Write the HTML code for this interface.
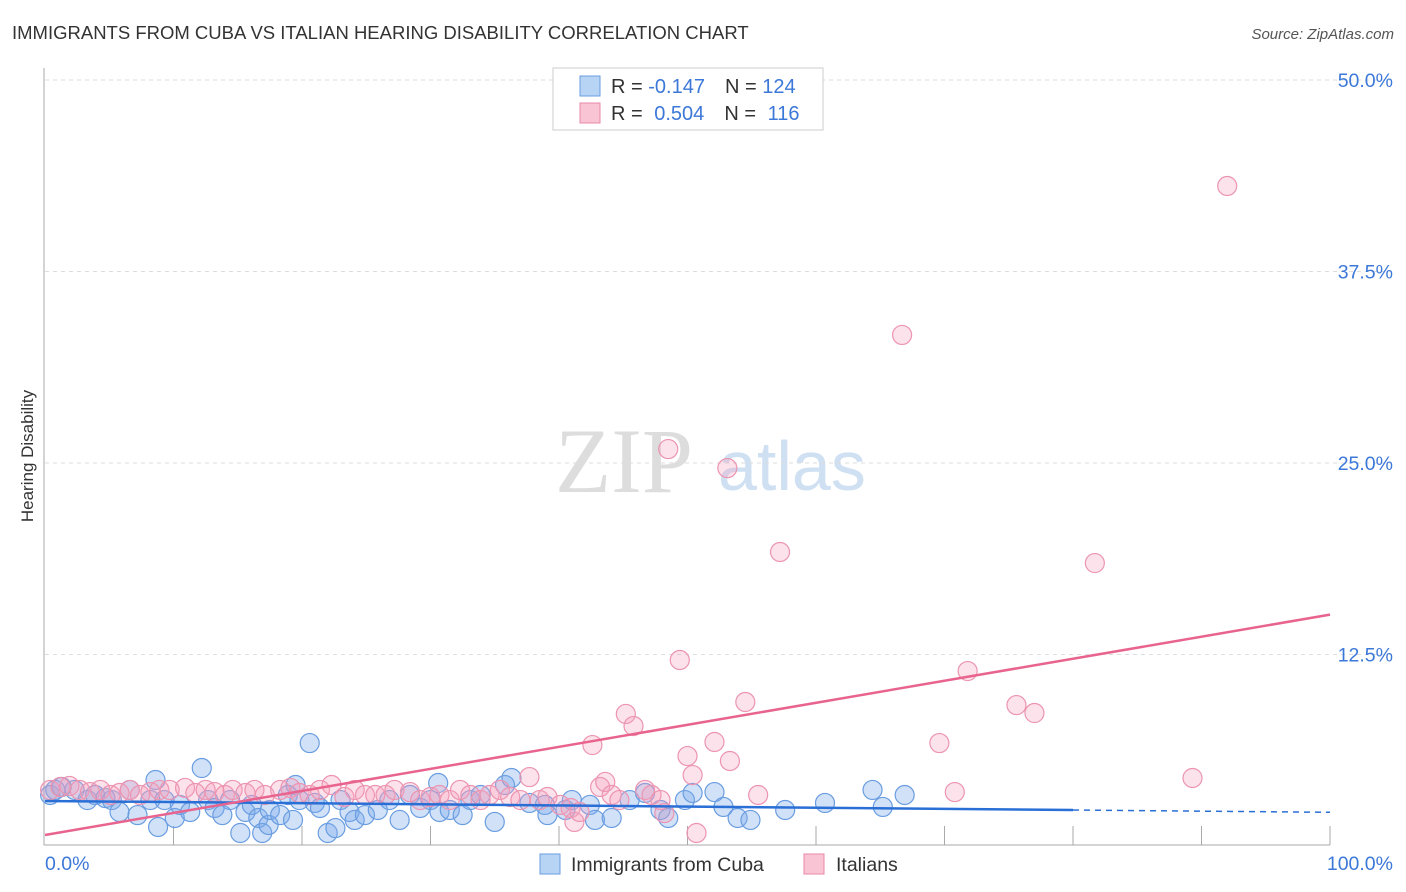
<!DOCTYPE html>
<html><head><meta charset="utf-8"><style>
body{margin:0;background:#fff;font-family:"Liberation Sans",sans-serif;}
svg{display:block}
</style></head><body>
<svg id="chart" width="1406" height="892">
<text x="12" y="39" font-size="18.5" fill="#333">IMMIGRANTS FROM CUBA VS ITALIAN HEARING DISABILITY CORRELATION CHART</text>
<text x="1394" y="39" font-size="15" fill="#555" font-style="italic" text-anchor="end">Source: ZipAtlas.com</text>
<text transform="translate(33,456) rotate(-90)" font-size="17" fill="#333" text-anchor="middle">Hearing Disability</text>
<g>
<text x="555" y="492" font-size="92" fill="#ddd" font-family="Liberation Serif,serif">ZIP</text>
<text x="718" y="490" font-size="70" fill="#cfe0f3">atlas</text>
</g>
<g id="grid"></g><g id="axes"></g><g id="pts"></g><g id="lines"></g>
<g>
<rect x="553" y="68" width="270" height="62" fill="#fff" stroke="#ccc"/>
<rect x="580" y="76" width="20" height="20" fill="#b8d4f5" stroke="#6a9de0"/>
<rect x="580" y="103" width="20" height="20" fill="#f9c4d4" stroke="#e88aa8"/>
<text x="611" y="93" font-size="20" fill="#333">R = <tspan fill="#3c78d8">-0.147</tspan><tspan dx="20">N = </tspan><tspan fill="#3c78d8">124</tspan></text>
<text x="611" y="120" font-size="20" fill="#333">R = <tspan fill="#3c78d8" dx="6">0.504</tspan><tspan dx="20">N = </tspan><tspan fill="#3c78d8" dx="6">116</tspan></text>
</g>
<g>
<rect x="540" y="854" width="20" height="20" fill="#b8d4f5" stroke="#6a9de0"/>
<text x="571" y="871" font-size="19.5" fill="#333">Immigrants from Cuba</text>
<rect x="804" y="854" width="20" height="20" fill="#f9c4d4" stroke="#e88aa8"/>
<text x="836" y="871" font-size="19.5" fill="#333">Italians</text>
</g>
</svg>
<script>
const yTicks=[12.5,25,37.5,50];
const yTickLabels=["12.5%","25.0%","37.5%","50.0%"];
const xTickLabels=["0.0%","100.0%"];
const blueX=[0.4,0.8,1.3,2.3,3.3,3.9,4.7,5.2,5.8,6.6,7.2,8.2,8.6,8.8,9.3,10.1,10.5,11.3,12.2,12.7,13.2,13.8,14.4,15.2,15.6,16.1,16.6,16.9,17.4,17.5,18.3,18.9,19.3,19.5,19.8,20.6,21.0,21.4,22.0,22.6,23.0,23.7,24.1,24.9,25.9,26.8,27.6,28.4,29.2,30.0,30.6,30.7,31.5,32.5,33.1,33.9,35.0,35.8,36.3,37.7,38.9,39.1,40.5,41.0,42.4,42.8,44.1,45.5,46.7,47.9,48.5,49.8,50.4,52.1,52.8,53.9,54.9,57.6,60.7,64.4,65.2,66.9];
const blueY=[3.33,3.66,3.85,3.66,3.0,3.33,3.13,3.0,2.22,3.66,2.02,3.0,4.31,1.24,3.0,1.83,2.68,2.22,5.09,3.0,2.48,2.02,3.0,0.85,2.22,2.68,1.83,0.85,1.37,2.35,2.02,3.33,1.70,3.98,3.0,6.72,2.81,2.48,0.85,1.17,3.0,2.22,1.70,2.02,2.35,3.0,1.70,3.33,2.48,3.0,4.11,2.22,2.35,2.02,3.0,3.33,1.57,3.98,4.44,2.81,2.68,2.02,2.35,3.0,2.68,1.70,1.83,3.0,3.46,2.35,1.83,3.0,3.46,3.52,2.55,1.83,1.70,2.35,2.81,3.66,2.55,3.33];
const pinkX=[0.4,1.2,1.9,2.7,3.5,4.3,5.1,5.8,6.6,7.4,8.2,8.9,9.7,10.9,11.7,12.5,13.2,14.0,14.6,15.6,16.3,17.1,18.3,19.1,19.8,20.6,21.4,22.3,23.3,24.1,24.9,25.7,26.5,27.2,28.4,29.2,30.0,30.7,31.5,32.3,33.1,33.9,34.6,35.4,36.2,37.0,37.7,38.5,39.1,40.1,40.9,41.2,41.6,42.6,43.2,43.6,44.1,44.7,45.2,45.8,46.7,47.2,47.9,48.2,49.4,50.0,50.4,50.7,52.1,53.3,54.5,55.5,57.2,48.5,53.1,66.7,92.0,81.7,71.8,75.6,77.0,69.6,70.8,89.3];
const pinkY=[3.66,3.85,3.92,3.66,3.52,3.66,3.33,3.46,3.66,3.33,3.52,3.66,3.66,3.79,3.46,3.66,3.52,3.33,3.66,3.46,3.66,3.33,3.66,3.79,3.46,3.33,3.66,3.98,3.20,3.66,3.33,3.33,3.33,3.66,3.52,3.0,3.20,3.33,3.0,3.66,3.33,3.0,3.33,3.66,3.20,3.0,4.5,3.0,3.20,2.68,2.48,1.57,2.22,6.59,3.85,4.18,3.33,3.0,8.62,7.83,3.66,3.33,3.0,2.15,12.14,5.87,4.63,0.85,6.79,5.55,9.4,3.33,19.19,25.91,24.67,33.36,43.08,18.47,11.42,9.2,8.68,6.72,3.52,4.44];
const blueTrend=[2.94,2.2];
const pinkTrend=[0.72,15.1];
const X0=45,X1=1330,Y0=846,PX=15.32;
const sx=v=>X0+(X1-X0)*v/100, sy=v=>Y0-v*PX;
const NS="http://www.w3.org/2000/svg";
function mk(t,a,p){const e=document.createElementNS(NS,t);for(const k in a)e.setAttribute(k,a[k]);p.appendChild(e);return e;}
const grid=document.getElementById('grid'),axes=document.getElementById('axes'),pts=document.getElementById('pts'),lines=document.getElementById('lines');
yTicks.forEach((v,i)=>{
 const g=mk('line',{x1:45,x2:1392,y1:sy(v),y2:sy(v),stroke:'#ddd','stroke-dasharray':'4,4'},grid);
 
 
 const t=mk('text',{x:1393,y:sy(v)+7,'font-size':19.5,fill:'#3c78d8','text-anchor':'end'},axes);
 t.textContent=yTickLabels[i];
 
 
});
const ax=mk('line',{x1:44,x2:44,y1:68,y2:845,stroke:'#aaa'},axes);


const bx=mk('line',{x1:44,x2:1330,y1:845,y2:845,stroke:'#aaa'},axes);


for(let i=1;i<=10;i++){const tk=mk('line',{x1:sx(i*10),x2:sx(i*10),y1:826,y2:845,stroke:'#aaa'},axes);
 
 }
[[0,'start',45],[100,'end',1393]].forEach((d,i)=>{const t=mk('text',{x:d[2],y:870,'font-size':19.5,fill:'#3c78d8','text-anchor':d[1]},axes);t.textContent=xTickLabels[i];
 
 });
blueX.forEach((x,i)=>{const c=mk('circle',{cx:sx(x),cy:sy(blueY[i]),r:9.5,fill:'rgba(120,170,235,0.35)',stroke:'#6a9de0','stroke-width':1.2},pts);
 
 });
pinkX.forEach((x,i)=>{const c=mk('circle',{cx:sx(x),cy:sy(pinkY[i]),r:9.5,fill:'rgba(245,160,190,0.3)',stroke:'#ec94b0','stroke-width':1.2},pts);
 
 });
const bv=x=>blueTrend[0]+(blueTrend[1]-blueTrend[0])*x/100;
const l1=mk('line',{x1:sx(0),y1:sy(bv(0)),x2:sx(80),y2:sy(bv(80)),stroke:'#2a6fd6','stroke-width':2.5},lines);


const l2=mk('line',{x1:sx(80),y1:sy(bv(80)),x2:sx(100),y2:sy(bv(100)),stroke:'#2a6fd6','stroke-width':1.5,'stroke-dasharray':'6,5'},lines);


const l3=mk('line',{x1:sx(0),y1:sy(pinkTrend[0]),x2:sx(100),y2:sy(pinkTrend[1]),stroke:'#e8648e','stroke-width':2.5},lines);


</script>
</body></html>
